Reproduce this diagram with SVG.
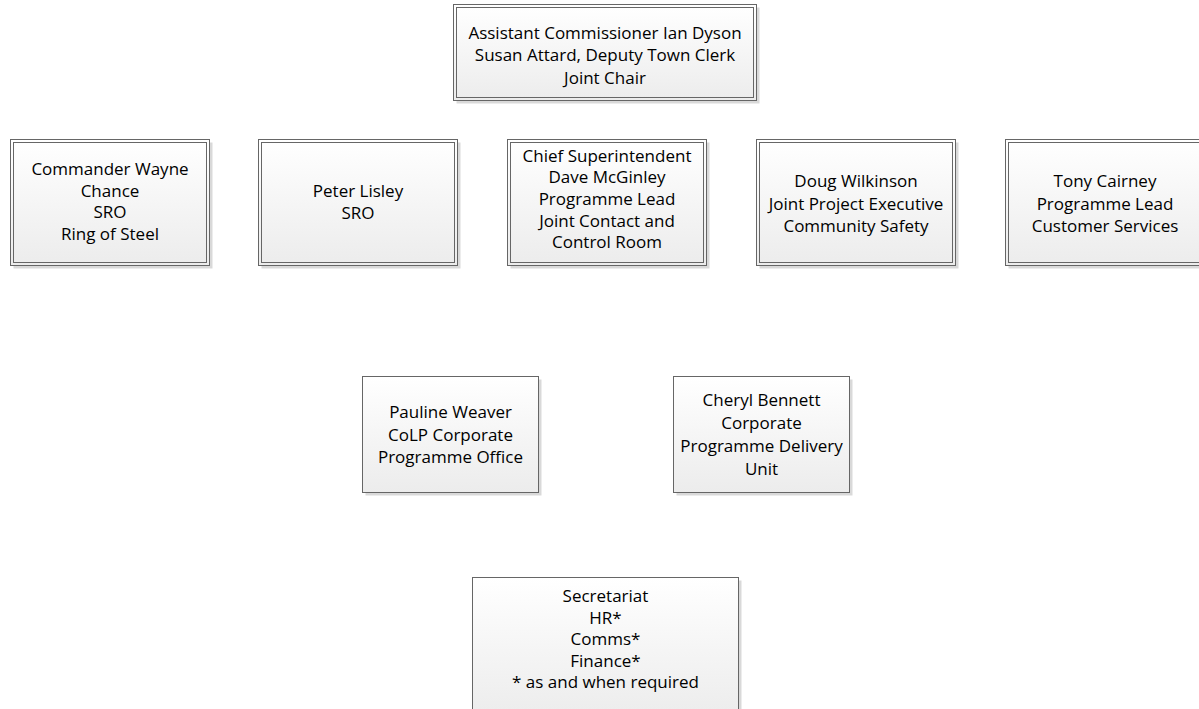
<svg xmlns="http://www.w3.org/2000/svg" width="1199" height="709" viewBox="0 0 1199 709">
<defs>
<linearGradient id="fillg" x1="0" y1="0" x2="0" y2="1">
<stop offset="0" stop-color="#ffffff"/>
<stop offset="1" stop-color="#ececec"/>
</linearGradient>
</defs>
<style>
.shadow{fill:#d9d9d9;stroke:none}
.box{fill:url(#fillg);stroke:#666666;stroke-width:1}
.inner{fill:none;stroke:#666666;stroke-width:1}
text{font-family:"Open Sans","Liberation Sans",sans-serif;font-size:17px;fill:#000;text-anchor:middle}
</style>
<rect width="1199" height="709" fill="#ffffff"/>
<g id="connectors"></g>

<g id="n-chair">
<rect class="shadow" x="456.5" y="7.5" width="303" height="96"/>
<rect class="box" x="453.5" y="4.5" width="303" height="96"/>
<rect class="inner" x="456.5" y="7.5" width="297" height="90"/>
<text x="605" y="38.5">Assistant Commissioner Ian Dyson</text>
<text x="605" y="61">Susan Attard, Deputy Town Clerk</text>
<text x="605" y="83.5">Joint Chair</text>
</g>

<g id="n-wayne">
<rect class="shadow" x="13.5" y="142.5" width="199" height="126"/>
<rect class="box" x="10.5" y="139.5" width="199" height="126"/>
<rect class="inner" x="13.5" y="142.5" width="193" height="120"/>
<text x="110" y="175">Commander Wayne</text>
<text x="110" y="196.7">Chance</text>
<text x="110" y="218.4">SRO</text>
<text x="110" y="240">Ring of Steel</text>
</g>

<g id="n-peter">
<rect class="shadow" x="261.5" y="142.5" width="199" height="126"/>
<rect class="box" x="258.5" y="139.5" width="199" height="126"/>
<rect class="inner" x="261.5" y="142.5" width="193" height="120"/>
<text x="358" y="197">Peter Lisley</text>
<text x="358" y="219">SRO</text>
</g>

<g id="n-dave">
<rect class="shadow" x="510.5" y="142.5" width="199" height="126"/>
<rect class="box" x="507.5" y="139.5" width="199" height="126"/>
<rect class="inner" x="510.5" y="142.5" width="193" height="120"/>
<text x="607" y="161.7">Chief Superintendent</text>
<text x="607" y="183.3">Dave McGinley</text>
<text x="607" y="205">Programme Lead</text>
<text x="607" y="226.7">Joint Contact and</text>
<text x="607" y="248.3">Control Room</text>
</g>

<g id="n-doug">
<rect class="shadow" x="759.5" y="142.5" width="199" height="126"/>
<rect class="box" x="756.5" y="139.5" width="199" height="126"/>
<rect class="inner" x="759.5" y="142.5" width="193" height="120"/>
<text x="856" y="187">Doug Wilkinson</text>
<text x="856" y="209.5">Joint Project Executive</text>
<text x="856" y="231.5">Community Safety</text>
</g>

<g id="n-tony">
<rect class="shadow" x="1008.5" y="142.5" width="199" height="126"/>
<rect class="box" x="1005.5" y="139.5" width="199" height="126"/>
<rect class="inner" x="1008.5" y="142.5" width="193" height="120"/>
<text x="1105" y="187">Tony Cairney</text>
<text x="1105" y="209.5">Programme Lead</text>
<text x="1105" y="231.5">Customer Services</text>
</g>

<g id="n-pauline">
<rect class="shadow" x="365.5" y="379.5" width="176" height="116"/>
<rect class="box" x="362.5" y="376.5" width="176" height="116"/>
<text x="450.5" y="418">Pauline Weaver</text>
<text x="450.5" y="440.5">CoLP Corporate</text>
<text x="450.5" y="463">Programme Office</text>
</g>

<g id="n-cheryl">
<rect class="shadow" x="676.5" y="379.5" width="176" height="116"/>
<rect class="box" x="673.5" y="376.5" width="176" height="116"/>
<text x="761.5" y="406">Cheryl Bennett</text>
<text x="761.5" y="429">Corporate</text>
<text x="761.5" y="452">Programme Delivery</text>
<text x="761.5" y="475">Unit</text>
</g>

<g id="n-secretariat">
<rect class="shadow" x="475.5" y="580.5" width="266" height="140"/>
<rect class="box" x="472.5" y="577.5" width="266" height="140"/>
<text x="605.5" y="602.3">Secretariat</text>
<text x="605.5" y="623.8">HR*</text>
<text x="605.5" y="645.3">Comms*</text>
<text x="605.5" y="666.8">Finance*</text>
<text x="605.5" y="688.3">* as and when required</text>
</g>
</svg>
